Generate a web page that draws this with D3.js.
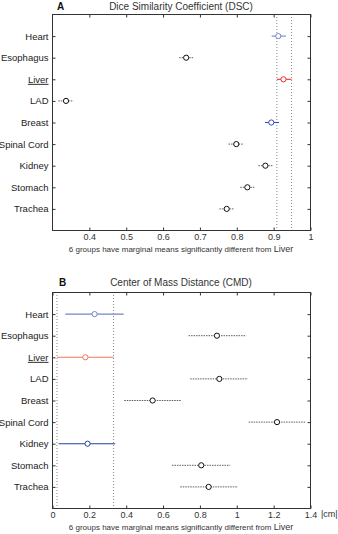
<!DOCTYPE html>
<html><head><meta charset="utf-8">
<script src="https://cdn.jsdelivr.net/npm/d3@7"></script>
<style>body{margin:0;background:#fff}svg{display:block;font-family:"Liberation Sans",Arial,sans-serif}</style>
</head><body><svg id="c" width="338" height="534"></svg>
<script>
const groups = ["Heart","Esophagus","Liver","LAD","Breast","Spinal Cord","Kidney","Stomach","Trachea"];
// Panel A: DSC means and interval bounds
const dscMean = [0.914,0.664,0.928,0.338,0.895,0.800,0.879,0.830,0.774];
const dscLow  = [0.896,0.645,0.910,0.317,0.878,0.779,0.860,0.811,0.754];
const dscHigh = [0.935,0.684,0.950,0.358,0.916,0.820,0.900,0.850,0.795];
const dscTicks = [0.4,0.5,0.6,0.7,0.8,0.9,1];
// Panel B: CMD means and interval bounds (cm)
const cmdMean = [0.231,0.895,0.181,0.908,0.546,1.221,0.193,0.810,0.850];
const cmdLow  = [0.072,0.741,0.027,0.750,0.392,1.067,0.036,0.651,0.696];
const cmdHigh = [0.389,1.054,0.334,1.063,0.702,1.376,0.343,0.967,1.009];
const cmdTicks = [0,0.2,0.4,0.6,0.8,1,1.2,1.4];
// colours per group (null = black dotted, not different)
const colA = ["#7386d2",null,"#e8302c",null,"#2f4fb0",null,null,null,null];
const colB = ["#7484cc",null,"#f2775a",null,null,null,"#23409a",null,null];

const svg = d3.select("#c");

function panel(cfg){
  const {left,right,top,bottom,xdom,ticks,mean,low,high,cols,title,letter,letterX,titleY,unit,fmt} = cfg;
  const x = d3.scaleLinear().domain(xdom).range([left,right]);
  const y = d3.scaleLinear().domain([0,10]).range([top,bottom]);
  const g = svg.append("g");
  // reference lines at Liver interval
  const li = groups.indexOf("Liver");
  [low[li],high[li]].forEach(v=>{
    g.append("line").attr("x1",x(v)).attr("x2",x(v)).attr("y1",top).attr("y2",bottom)
     .attr("stroke","#888").attr("stroke-width",1).attr("stroke-dasharray","1,2");
  });
  // frame
  g.append("rect").attr("x",left+0.5).attr("y",top+0.5).attr("width",right-left).attr("height",bottom-top)
   .attr("fill","none").attr("stroke","#333").attr("stroke-width",1);
  // x axis bottom & top ticks
  const xb = d3.axisBottom(x).tickValues(ticks).tickSize(-3).tickFormat(fmt);
  const ga = g.append("g").attr("transform",`translate(0.5,${bottom+0.5})`).call(xb);
  ga.select(".domain").remove();
  ga.selectAll("text").attr("dy",null).attr("y",9).attr("font-size",9).attr("fill","#333");
  ga.selectAll("line").attr("stroke","#333");
  const xt = d3.axisTop(x).tickValues(ticks).tickSize(-3).tickFormat("");
  const gt = g.append("g").attr("transform",`translate(0.5,${top+0.5})`).call(xt);
  gt.select(".domain").remove(); gt.selectAll("line").attr("stroke","#333");
  // y axis
  const ya = d3.axisLeft(y).tickValues(d3.range(1,10)).tickSize(-3).tickFormat(d=>groups[d-1]);
  const gy = g.append("g").attr("transform",`translate(${left+0.5},0.5)`).call(ya);
  gy.select(".domain").remove();
  gy.selectAll("line").attr("stroke","#333");
  gy.selectAll("text").attr("x",-4).attr("font-size",9.5).attr("fill","#222")
    .attr("text-decoration",d=>groups[d-1]==="Liver"?"underline":null);
  const yr = d3.axisRight(y).tickValues(d3.range(1,10)).tickSize(-3).tickFormat("");
  const gr = g.append("g").attr("transform",`translate(${right+0.5},0.5)`).call(yr);
  gr.select(".domain").remove(); gr.selectAll("line").attr("stroke","#333");
  // intervals
  groups.forEach((nm,i)=>{
    const c = cols[i];
    const yy = y(i+1)+0.5;
    g.append("line").attr("x1",x(low[i])).attr("x2",Math.min(x(high[i]),right)).attr("y1",yy).attr("y2",yy)
     .attr("stroke",c||"#333").attr("stroke-width",c?1.1:0.8).attr("stroke-dasharray",c?null:"1.5,1");
    g.append("circle").attr("cx",x(mean[i])).attr("cy",yy).attr("r",2.6)
     .attr("fill","#fff").attr("stroke",c||"#111").attr("stroke-width",1);
  });
  // titles
  svg.append("text").attr("x",(left+right)/2 - 0).attr("y",titleY).attr("text-anchor","middle")
    .attr("font-size",10).attr("fill","#333").text(title);
  svg.append("text").attr("x",letterX).attr("y",titleY).attr("font-size",10).attr("font-weight","bold").attr("fill","#111").text(letter);
  svg.append("text").attr("x",(left+right)/2).attr("y",bottom+22).attr("text-anchor","middle")
    .attr("font-size",8).attr("fill","#333")
    .text("6 groups have marginal means significantly different from ")
    .append("tspan").attr("font-size",9).text("Liver");
  if(unit) svg.append("text").attr("x",right+11).attr("y",bottom+9).attr("font-size",9).attr("fill","#333").text(unit);
}

panel({left:52,right:310,top:14,bottom:230,xdom:[0.3,1],ticks:dscTicks,mean:dscMean,low:dscLow,high:dscHigh,
  cols:colA,title:"Dice Similarity Coefficient (DSC)",letter:"A",letterX:57,titleY:10,unit:null,fmt:d3.format("")});
panel({left:52,right:310,top:292,bottom:508,xdom:[0,1.4],ticks:cmdTicks,mean:cmdMean,low:cmdLow,high:cmdHigh,
  cols:colB,title:"Center of Mass Distance (CMD)",letter:"B",letterX:59,titleY:286,unit:"|cm|",fmt:d3.format("")});
</script></body></html>
